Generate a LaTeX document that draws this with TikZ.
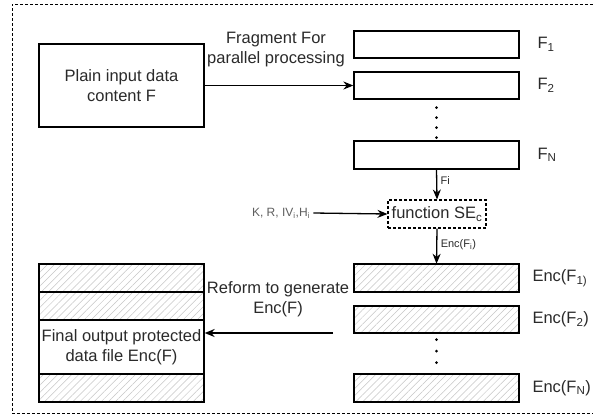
\documentclass[tikz,border=0pt]{standalone}
\usepackage{fontspec}
\setmainfont{Liberation Sans}
\usetikzlibrary{arrows.meta,patterns.meta}
\definecolor{txt}{HTML}{2A2A2A}
\definecolor{soft}{HTML}{5E5E5E}
\tikzset{
  every node/.style={text=txt},
  blockbox/.style={draw=black, line width=1.3pt, rectangle, inner sep=0pt},
  hatchbox/.style={blockbox, pattern={Lines[angle=45,distance=5pt,line width=0.5pt]}, pattern color=gray!45},
  bigtext/.style={font=\fontsize{16.5}{20}\selectfont, align=center},
  smalltext/.style={font=\fontsize{11}{13}\selectfont},
  flow/.style={-{Stealth[length=10pt,width=8pt]}, line width=1.3pt, black},
  dotline/.style={line width=3pt, line cap=round, black},
  frame/.style={line width=1pt, dash pattern=on 3pt off 2pt, black}
}
\begin{document}
\begin{tikzpicture}[x=1pt, y=-1pt]
\useasboundingbox (0,0) rectangle (593,418);
\fill[white] (0,0) rectangle (593,418);

% outer dashed frame (open on the right)
\draw[frame] (593,4) -- (12,4) -- (12,413) -- (593,413);

% input block
\node[blockbox, bigtext, minimum width=165pt, minimum height=83pt] (plain) at (121.5,85.5) {Plain input data\\content F};

% plain fragments
\node[blockbox, minimum width=165pt, minimum height=27pt] (f1) at (436.5,44.5) {};
\node[blockbox, minimum width=165pt, minimum height=27pt] (f2) at (436.5,85.5) {};
\node[blockbox, minimum width=165pt, minimum height=28pt] (fN) at (436.5,155) {};
\node[bigtext, anchor=west] (lf1) at (534,44.5) {F\textsubscript{1}};
\node[bigtext, anchor=west] (lf2) at (534,85.5) {F\textsubscript{2}};
\node[bigtext, anchor=west] (lfN) at (534,155) {F\textsubscript{N}};
\draw[dotline, dash pattern=on 0pt off 10pt, dash phase=2pt] (f2.south) -- (fN.north);

% fragmentation step
\node[bigtext] (fraglbl) at (276,50) {Fragment For\\parallel processing};
\draw[flow] (plain.east) -- (f2.west);

% encryption function
\node[draw=black, line width=1.1pt, dash pattern=on 3pt off 2pt, bigtext, minimum width=98pt, minimum height=28pt, inner sep=0pt] (func) at (437,214) {function SE\textsubscript{c}};
\node[font=\fontsize{12}{14}\selectfont, text=soft] (keys) at (281,213) {K, R, IV\textsubscript{i},H\textsubscript{i}};
\draw[flow] (keys.east) -- (func.west);
\draw[flow] (fN.south) -- node[smalltext, right, pos=0.35] {Fi} (func.north);

% encrypted fragments
\node[hatchbox, minimum width=165pt, minimum height=28pt] (e1) at (436.5,278) {};
\node[hatchbox, minimum width=165pt, minimum height=27pt] (e2) at (436.5,319.5) {};
\node[hatchbox, minimum width=165pt, minimum height=28pt] (eN) at (436.5,388) {};
\node[bigtext, anchor=west] (le1) at (529,278) {Enc(F\textsubscript{1)}};
\node[bigtext, anchor=west] (le2) at (529,319.5) {Enc(F\textsubscript{2})};
\node[bigtext, anchor=west] (leN) at (529,388) {Enc(F\textsubscript{N})};
\draw[flow] (func.south) -- node[smalltext, right, pos=0.45] {Enc(F\textsubscript{i})} (e1.north);
\draw[dotline, dash pattern=on 0pt off 11.5pt, dash phase=5.5pt] (e2.south) -- (eN.north);

% reassembled output file
\node[hatchbox, minimum width=165pt, minimum height=28pt] (s1) at (121.5,278) {};
\node[hatchbox, minimum width=165pt, minimum height=28pt] (s2) at (121.5,306) {};
\node[blockbox, fill=white, bigtext, minimum width=165pt, minimum height=54pt] (s3) at (121.5,347) {Final output protected\\data file Enc(F)};
\node[hatchbox, minimum width=165pt, minimum height=28pt] (s4) at (121.5,388) {};

% reform step
\node[bigtext] (reflbl) at (278,299) {Reform to generate\\Enc(F)};
\coordinate (rstart) at (333,333);
\draw[flow] (rstart) -- (rstart -| s3.east);
\end{tikzpicture}
\end{document}
